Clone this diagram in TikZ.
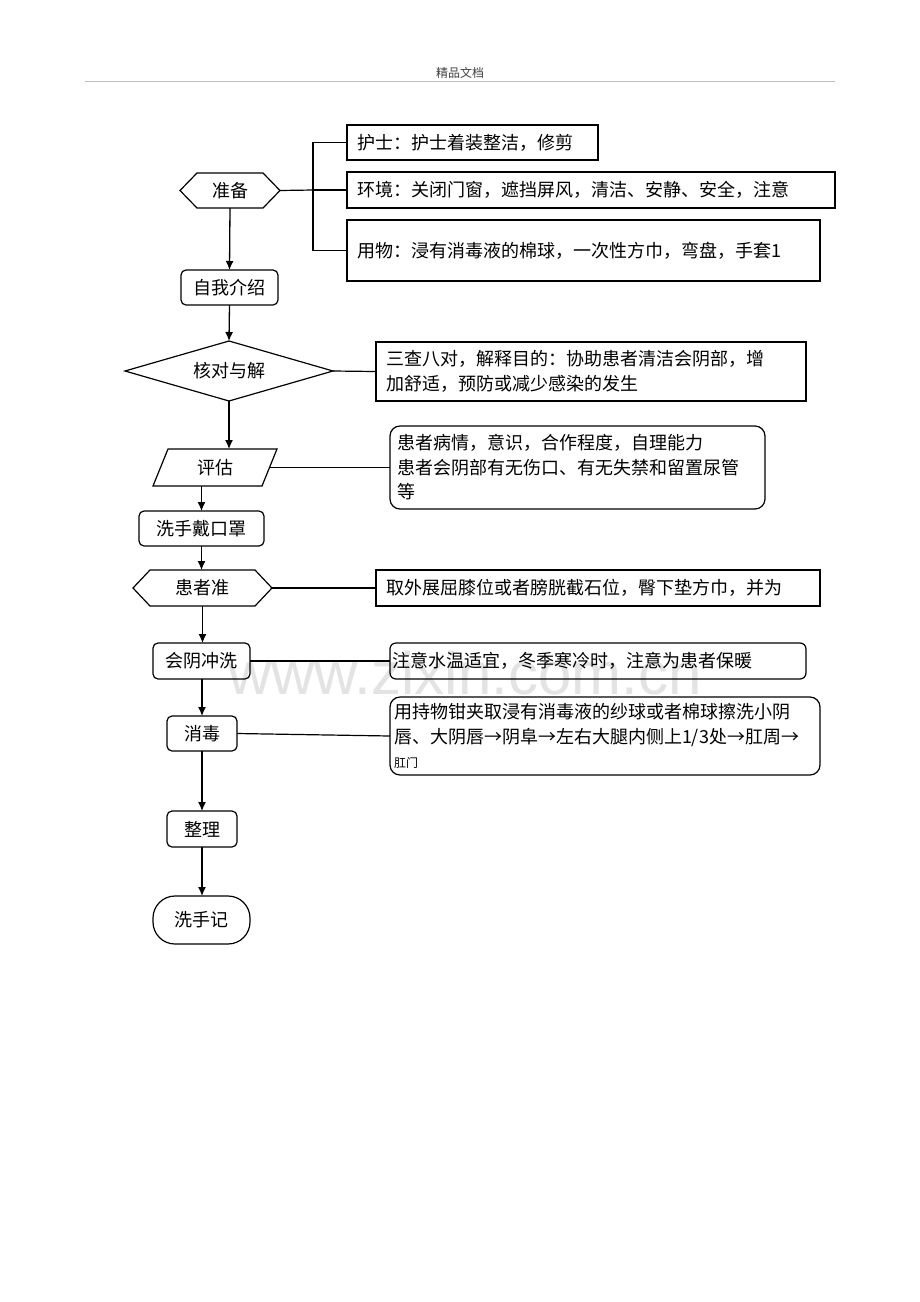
\documentclass[tikz,border=0pt]{standalone}
\usepackage{fontspec}
\setmainfont{Noto Sans CJK SC}
\newfontfamily\wmfont{Liberation Sans}
\usetikzlibrary{arrows.meta}
\begin{document}
\begin{tikzpicture}[x=1pt,y=-1pt,
  every node/.style={font=\fontsize{18}{24.5}\selectfont, inner sep=0pt, outer sep=0pt},
  line/.style={line width=1.2pt, draw=black},
  arr/.style={line width=1.3pt, -{Latex[length=9pt,width=8pt]}},
  pbox/.style={draw, line width=1.2pt, inner xsep=10pt, align=left},
  rbox/.style={draw, line width=1.2pt, rounded corners=10pt, inner xsep=8pt, align=left},
  sbox/.style={draw, line width=1.2pt, rounded corners=5pt, align=center},
  ghost/.style={draw=none, align=center}
]
\useasboundingbox (0,0) rectangle (920,1302);
\fill[white] (0,0) rectangle (920,1302);
% header
\node[font=\fontsize{12}{14}\selectfont, text=black!75] (hdr) at (460,73) {精品文档};
\coordinate (hl) at (85,81); \coordinate (hr) at (835,81);
\draw[line width=1pt, black!25] (hl) -- (hr);
% watermark
\node[font=\wmfont\fontsize{60}{60}\selectfont, text=black!11] (wm) at (465,673) {www.zixin.com.cn};

% 准备 hexagon
\node[ghost, minimum width=100pt, minimum height=35pt] (zb) at (230,190.5) {准备};
\draw[line] (zb.west) -- ([xshift=17pt]zb.north west) -- ([xshift=-17pt]zb.north east) -- (zb.east) -- ([xshift=-17pt]zb.south east) -- ([xshift=17pt]zb.south west) -- cycle;
\node[pbox, minimum height=35pt, text width=231pt] (hushi) at (472.5,142.5) {护士：护士着装整洁，修剪};
\node[pbox, minimum height=36pt, text width=468pt] (huanjing) at (591,190) {环境：关闭门窗，遮挡屏风，清洁、安静、安全，注意};
\node[pbox, minimum height=61pt, text width=453pt] (yongwu) at (583.5,250.5) {用物：浸有消毒液的棉球，一次性方巾，弯盘，手套1};
\coordinate (bus) at (313,190);
\draw[line] (zb.east) -- (bus);
\draw[line] (hushi.west) -| (bus) |- (yongwu.west);
\draw[line] (bus) -- (huanjing.west);

% 自我介绍
\node[sbox, minimum width=97pt, minimum height=35pt] (zw) at (229.5,287.5) {自我介绍};
\draw[arr] (zb.south) -- (zw.north);

% 核对与解 diamond
\node[ghost, minimum width=208pt, minimum height=60pt] (hd) at (229,371) {核对与解};
\draw[line] (hd.west) -- (hd.north) -- (hd.east) -- (hd.south) -- cycle;
\draw[arr] (zw.south) -- (hd.north);
\node[pbox, minimum height=59pt, text width=410pt] (sc) at (591,371.5) {三查八对，解释目的：协助患者清洁会阴部，增\\加舒适，预防或减少感染的发生};
\draw[line] (hd.east) -- (sc.west);

% 评估 parallelogram
\node[ghost, minimum width=124pt, minimum height=37pt] (pg) at (215,467.5) {评估};
\draw[line] ([xshift=15pt]pg.north west) -- (pg.north east) -- ([xshift=-15pt]pg.south east) -- (pg.south west) -- cycle;
\draw[arr] (hd.south) -- (hd.south |- pg.north);
\node[rbox, minimum height=83pt, text width=361pt, inner xsep=7pt] (pgb) at (577.5,467.5) {患者病情，意识，合作程度，自理能力\\患者会阴部有无伤口、有无失禁和留置尿管\\等};
\draw[line] ([xshift=-7pt]pg.east) -- (pgb.west);

% 洗手戴口罩
\node[sbox, minimum width=125pt, minimum height=35pt] (wash) at (201.5,528.5) {洗手戴口罩};
\draw[arr] (wash.north |- pg.south) -- (wash.north);

% 患者准 hexagon
\node[ghost, minimum width=139pt, minimum height=36pt] (hz) at (202.5,588) {患者准};
\draw[line] (hz.west) -- ([xshift=17pt]hz.north west) -- ([xshift=-17pt]hz.north east) -- (hz.east) -- ([xshift=-17pt]hz.south east) -- ([xshift=17pt]hz.south west) -- cycle;
\draw[arr] (wash.south) -- (wash.south |- hz.north);
\node[pbox, minimum height=36pt, text width=424pt] (qw) at (598,588) {取外展屈膝位或者膀胱截石位，臀下垫方巾，并为};
\draw[line] (hz.east) -- (qw.west);

% 会阴冲洗
\node[sbox, minimum width=97pt, minimum height=36pt] (hy) at (201.5,661) {会阴冲洗};
\draw[arr] (hz.south) -- (hz.south |- hy.north);
\node[rbox, minimum height=36pt, text width=412pt, inner xsep=2pt, rounded corners=6pt] (zy) at (598,661) {注意水温适宜，冬季寒冷时，注意为患者保暖};
\draw[line] (hy.east) -- (zy.west);

% 消毒
\node[sbox, minimum width=70pt, minimum height=35pt] (xd) at (202,733.5) {消毒};
\draw[arr] (hy.south -| xd.north) -- (xd.north);
\node[rbox, minimum height=78pt, text width=422pt, inner xsep=4pt] (yc) at (605,736) {用持物钳夹取浸有消毒液的纱球或者棉球擦洗小阴\\唇、大阴唇→阴阜→左右大腿内侧上1/3处→肛周→\\{\fontsize{12}{14}\selectfont 肛门}};
\draw[line] (xd.east) -- (yc.west);

% 整理
\node[sbox, minimum width=70pt, minimum height=36pt] (zl) at (202,829) {整理};
\draw[arr] (xd.south) -- (zl.north);

% 洗手记
\node[draw, line width=1.2pt, rounded corners=22pt, minimum width=97pt, minimum height=48pt, align=center] (xs) at (201.5,920) {洗手记};
\draw[arr] (zl.south) -- (zl.south |- xs.north);
\end{tikzpicture}
\end{document}
